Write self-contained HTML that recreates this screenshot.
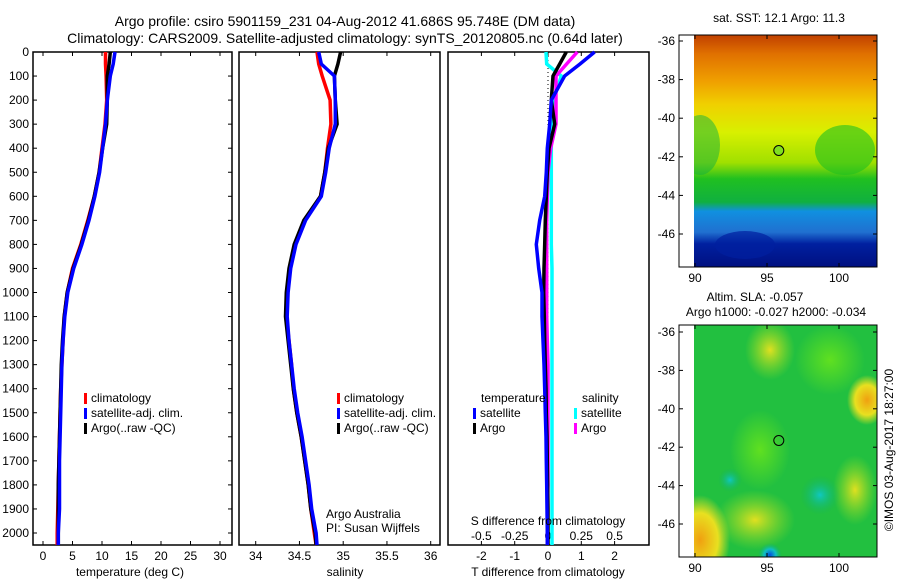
<!DOCTYPE html>
<html><head><meta charset="utf-8"><style>
body{margin:0;background:#fff;}
svg{display:block;font-family:"Liberation Sans",sans-serif;}
</style></head><body>
<svg id="fig" width="900" height="580" viewBox="0 0 900 580">
<text x="345" y="26" font-size="14" text-anchor="middle">Argo profile: csiro 5901159_231 04-Aug-2012 41.686S 95.748E (DM data)</text>
<text x="345" y="43" font-size="14" text-anchor="middle">Climatology: CARS2009. Satellite-adjusted climatology: synTS_20120805.nc (0.64d later)</text>
<g id="p1"></g>
<g id="p2"></g>
<g id="p3"></g>
<defs>
<clipPath id="c1"><rect x="694" y="35" width="183" height="232"/></clipPath>
<clipPath id="c2"><rect x="694" y="325" width="183" height="232"/></clipPath>
<linearGradient id="sstg" x1="0" y1="0" x2="0" y2="1">
<stop offset="0" stop-color="#c04000"/><stop offset="0.08" stop-color="#e07000"/><stop offset="0.2" stop-color="#f0a000"/><stop offset="0.3" stop-color="#f0d000"/><stop offset="0.42" stop-color="#d8f000"/><stop offset="0.55" stop-color="#a0e000"/><stop offset="0.62" stop-color="#20c020"/><stop offset="0.72" stop-color="#10b040"/><stop offset="0.76" stop-color="#1090e0"/><stop offset="0.85" stop-color="#2070d0"/><stop offset="0.9" stop-color="#0020a0"/><stop offset="1" stop-color="#001080"/>
</linearGradient>
<radialGradient id="yb"><stop offset="0" stop-color="#e0e020"/><stop offset="1" stop-color="#a0e020" stop-opacity="0"/></radialGradient>
<radialGradient id="ob"><stop offset="0" stop-color="#f0a010"/><stop offset="0.6" stop-color="#e8e020"/><stop offset="1" stop-color="#e8e020" stop-opacity="0"/></radialGradient>
<radialGradient id="cb"><stop offset="0" stop-color="#10c8c0"/><stop offset="1" stop-color="#10b060" stop-opacity="0"/></radialGradient>
<radialGradient id="bb"><stop offset="0" stop-color="#0050e0"/><stop offset="0.5" stop-color="#10c0c0"/><stop offset="1" stop-color="#10b060" stop-opacity="0"/></radialGradient>
<radialGradient id="gb"><stop offset="0" stop-color="#60e020"/><stop offset="1" stop-color="#60e020" stop-opacity="0"/></radialGradient>
</defs>
<g>
<g clip-path="url(#c1)">
<rect x="694" y="35" width="183" height="232" fill="url(#sstg)"/>
<ellipse cx="700" cy="145" rx="20" ry="30" fill="#10b040" opacity="0.5"/>
<ellipse cx="845" cy="150" rx="30" ry="25" fill="#20c020" opacity="0.6"/>
<ellipse cx="745" cy="245" rx="30" ry="14" fill="#0020a0" opacity="0.7"/>
</g>
<rect x="679" y="35" width="198" height="232" fill="none" stroke="#000"/>
<circle cx="778.8" cy="150.5" r="5" fill="#80e020" stroke="#000"/>
</g>
<g>
<g clip-path="url(#c2)">
<rect x="694" y="325" width="183" height="232" fill="#22c040"/>
<ellipse cx="700" cy="540" rx="30" ry="45" fill="url(#ob)"/>
<ellipse cx="755" cy="520" rx="40" ry="30" fill="url(#yb)"/>
<ellipse cx="867" cy="400" rx="20" ry="25" fill="url(#ob)"/>
<ellipse cx="770" cy="350" rx="25" ry="30" fill="url(#yb)"/>
<ellipse cx="830" cy="360" rx="35" ry="35" fill="url(#gb)"/>
<ellipse cx="855" cy="490" rx="22" ry="35" fill="url(#yb)"/>
<ellipse cx="760" cy="450" rx="30" ry="40" fill="url(#gb)"/>
<ellipse cx="820" cy="495" rx="20" ry="20" fill="url(#cb)"/>
<ellipse cx="770" cy="555" rx="12" ry="12" fill="url(#bb)"/>
<ellipse cx="730" cy="480" rx="12" ry="12" fill="url(#cb)"/>
</g>
<rect x="679" y="325" width="198" height="232" fill="none" stroke="#000"/>
<circle cx="778.8" cy="440.5" r="5" fill="none" stroke="#000"/>
</g>
<text x="779" y="22" font-size="12" text-anchor="middle">sat. SST: 12.1 Argo: 11.3</text>
<text x="755" y="301" font-size="12" text-anchor="middle">Altim. SLA: -0.057</text>
<text x="776" y="316" font-size="12" text-anchor="middle">Argo h1000: -0.027 h2000: -0.034</text>
<text transform="translate(893,450) rotate(-90)" font-size="12" text-anchor="middle">©IMOS 03-Aug-2017 18:27:00</text>
<g id="maps"></g>
</svg>
<script>
const depths=[0,50,100,200,300,400,500,600,700,800,900,1000,1100,1200,1300,1400,1500,1600,1700,1800,1900,2000,2050];
const tempClim=[10.6,10.6,10.7,10.8,10.5,10.0,9.5,8.7,7.6,6.4,5.0,4.1,3.6,3.4,3.2,3.0,2.9,2.8,2.7,2.6,2.5,2.4,2.4];
const tempSat=[12.2,11.9,11.4,10.9,10.6,10.1,9.6,8.8,7.8,6.6,5.2,4.2,3.7,3.4,3.2,3.1,3.0,2.9,2.8,2.8,2.8,2.6,2.6];
const tempArgo=[11.4,11.2,10.9,10.9,10.8,10.1,9.5,8.7,7.7,6.5,5.1,4.1,3.6,3.3,3.1,3.0,2.9,2.8,2.7,2.6,2.6,2.6,2.6];
const salClim=[34.70,34.72,34.76,34.85,34.86,34.82,34.79,34.74,34.56,34.45,34.39,34.36,34.35,34.38,34.41,34.43,34.47,34.52,34.56,34.60,34.63,34.67,34.69];
const salSat=[34.72,34.75,34.90,34.91,34.91,34.84,34.80,34.75,34.57,34.46,34.40,34.37,34.36,34.38,34.41,34.44,34.48,34.53,34.57,34.61,34.64,34.69,34.70];
const salArgo=[34.97,34.94,34.90,34.91,34.93,34.83,34.79,34.74,34.55,34.44,34.38,34.35,34.34,34.37,34.40,34.43,34.47,34.52,34.56,34.60,34.63,34.68,34.69];
const dTSat=[1.4,0.96,0.5,0.1,0.05,-0.02,-0.05,-0.1,-0.25,-0.35,-0.28,-0.18,-0.18,-0.15,-0.12,-0.1,-0.08,-0.06,-0.05,-0.04,-0.03,-0.02,-0.02];
const dTArgo=[0.55,0.35,0.15,0.1,0.2,0.03,-0.02,-0.05,-0.08,-0.1,-0.12,-0.13,-0.11,-0.1,-0.08,-0.06,-0.05,-0.03,-0.02,-0.01,0,0,0];
const dSArgo=[0.22,0.14,0.06,0.06,0.06,0.02,0.0,-0.005,-0.01,-0.01,-0.01,-0.01,-0.01,-0.005,0,0,0,0,0,0,-0.005,-0.005,-0.005];
const dSSat=[-0.015,-0.01,0.1,0.04,0.025,0.025,0.025,0.025,0.025,0.025,0.03,0.03,0.03,0.03,0.03,0.03,0.03,0.03,0.03,0.03,0.03,0.03,0.03];
const depthTicks=[0,100,200,300,400,500,600,700,800,900,1000,1100,1200,1300,1400,1500,1600,1700,1800,1900,2000];
const tempTicks=[0,5,10,15,20,25,30];
const salTicks=[34,34.5,35,35.5,36];
const dTTicks=[-2,-1,0,1,2];
const dSTicks=[-0.5,-0.25,0,0.25,0.5];
const dSTickLabels=['-0.5','-0.25','0','0.25','0.5'];
const latTicks=[-36,-38,-40,-42,-44,-46];
const lonTicks=[90,95,100];

const NS='http://www.w3.org/2000/svg';
function mk(tag,attrs,parent,txt){const e=document.createElementNS(NS,tag);for(const k in attrs)e.setAttribute(k,attrs[k]);if(txt!==undefined)e.textContent=txt;parent.appendChild(e);return e;}
const TOP=52,BOT=545;
const yD=d=>52+d*0.2405;
const xT=v=>43+v*5.9;
const xS=s=>255.7+(s-34)*87.5;
const xDT=v=>548+v*33.3;
const xDS=s=>548+s*4*33.3;

function frame(g,x0,x1){
  const r=mk('rect',{x:x0,y:TOP,width:x1-x0,height:BOT-TOP,fill:'none',stroke:'#000','stroke-width':1.5},g);
  
  
}
function line(g,xs,xf,color,name,w){
  const pts=depths.map((d,i)=>xf(xs[i]).toFixed(1)+','+yD(d).toFixed(1)).join(' ');
  const p=mk('polyline',{points:pts,fill:'none',stroke:color,'stroke-width':w||3.5},g);
  
  
}
function xticks(g,ticks,xf,labY){
  ticks.forEach(v=>{const x=xf(v);
    mk('line',{x1:x,x2:x,y1:TOP,y2:TOP+4,stroke:'#000'},g);
    mk('line',{x1:x,x2:x,y1:BOT,y2:BOT-4,stroke:'#000'},g);
    const l=mk('text',{x:x,y:labY,'font-size':12,'text-anchor':'middle'},g,String(v));
    
    
  });
}
function legend(g,x,y,items){
  items.forEach((it,i)=>{
    mk('rect',{x:x,y:y+i*15-9,width:3,height:11,fill:it[0]},g);
    const tx=mk('text',{x:x+7,y:y+i*15,'font-size':12},g,it[1]);
    
    
  });
}
const p1=document.getElementById('p1');
frame(p1,33,232);
depthTicks.forEach(d=>{const y=yD(d);
  mk('line',{x1:33,x2:37,y1:y,y2:y,stroke:'#000'},p1);
  mk('line',{x1:232,x2:228,y1:y,y2:y,stroke:'#000'},p1);
  const l=mk('text',{x:29,y:y+4,'font-size':12,'text-anchor':'end'},p1,String(d));
  
  
});
xticks(p1,tempTicks,xT,560);
line(p1,tempClim,xT,'#f00','temp-climatology-line');
line(p1,tempArgo,xT,'#000','temp-argo-line');
line(p1,tempSat,xT,'#00f','temp-satellite-line');
legend(p1,84,402,[['#f00','climatology'],['#00f','satellite-adj. clim.'],['#000','Argo(..raw -QC)']]);
let tt=mk('text',{x:130,y:576,'font-size':12,'text-anchor':'middle'},p1,'temperature (deg C)');


const p2=document.getElementById('p2');
frame(p2,239,440);
xticks(p2,salTicks,xS,560);
line(p2,salClim,xS,'#f00','sal-climatology-line');
line(p2,salArgo,xS,'#000','sal-argo-line');
line(p2,salSat,xS,'#00f','sal-satellite-line');
legend(p2,337,402,[['#f00','climatology'],['#00f','satellite-adj. clim.'],['#000','Argo(..raw -QC)']]);
tt=mk('text',{x:326,y:518,'font-size':12},p2,'Argo Australia');


tt=mk('text',{x:326,y:532,'font-size':12},p2,'PI: Susan Wijffels');


tt=mk('text',{x:345,y:576,'font-size':12,'text-anchor':'middle'},p2,'salinity');


const p3=document.getElementById('p3');
frame(p3,448,649);
xticks(p3,dTTicks,xDT,560);
dSTicks.forEach((s,i)=>{const l=mk('text',{x:xDS(s),y:540,'font-size':12,'text-anchor':'middle'},p3,dSTickLabels[i]);
  
  });
mk('line',{x1:xDT(0),x2:xDT(0),y1:TOP,y2:BOT,stroke:'#000','stroke-dasharray':'1,3'},p3);
line(p3,dSSat,xDS,'#0ff','s-diff-satellite-line');
line(p3,dSArgo,xDS,'#f0f','s-diff-argo-line');
line(p3,dTArgo,xDT,'#000','t-diff-argo-line');
line(p3,dTSat,xDT,'#00f','t-diff-satellite-line');
tt=mk('text',{x:481,y:402,'font-size':12},p3,'temperature');


tt=mk('text',{x:582,y:402,'font-size':12},p3,'salinity');


legend(p3,473,417,[['#00f','satellite'],['#000','Argo']]);
legend(p3,574,417,[['#0ff','satellite'],['#f0f','Argo']]);
tt=mk('text',{x:548,y:525,'font-size':12,'text-anchor':'middle'},p3,'S difference from climatology');


tt=mk('text',{x:548,y:576,'font-size':12,'text-anchor':'middle'},p3,'T difference from climatology');


const mg=document.getElementById('maps');
[[35,267,41,19.3],[325,557,332,19.2]].forEach(([y0,y1,yRef,k])=>{
  latTicks.forEach(la=>{const y=yRef+(-36-la)*k;
    mk('line',{x1:679,x2:683,y1:y,y2:y,stroke:'#000'},mg);
    mk('line',{x1:877,x2:873,y1:y,y2:y,stroke:'#000'},mg);
    const l=mk('text',{x:675,y:y+4,'font-size':12,'text-anchor':'end'},mg,String(la));
    
    });
  lonTicks.forEach(lo=>{const x=695+(lo-90)*14.4;
    mk('line',{x1:x,x2:x,y1:y0,y2:y0+4,stroke:'#000'},mg);
    mk('line',{x1:x,x2:x,y1:y1,y2:y1-4,stroke:'#000'},mg);
    const l=mk('text',{x:x,y:y1+15,'font-size':12,'text-anchor':'middle'},mg,String(lo));
    
    });
});
</script>
</body></html>
